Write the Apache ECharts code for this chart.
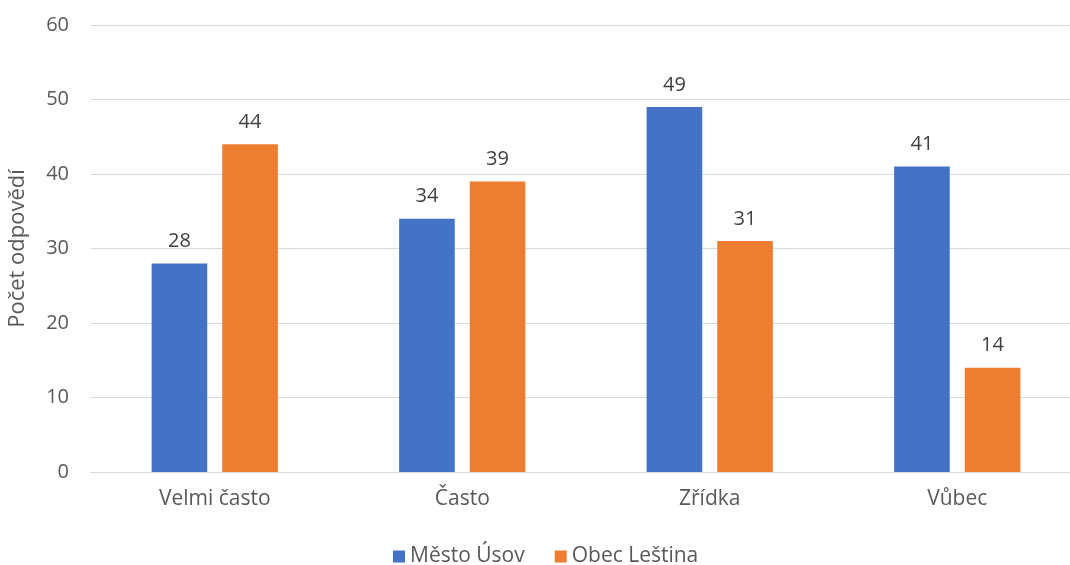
<!DOCTYPE html>
<html><head><meta charset="utf-8">
<script src="https://cdn.jsdelivr.net/npm/echarts@6/dist/echarts.min.js"></script>
<style>html,body{margin:0;padding:0;background:#fff}#c{width:1070px;height:565px}</style>
</head><body><div id="c"></div>
<script>
const categories = ['Velmi často', 'Často', 'Zřídka', 'Vůbec'];
const mestoUsov = [28, 34, 49, 41];
const obecLestina = [44, 39, 31, 14];
const seriesNames = ['Město Úsov', 'Obec Leština'];
const yTitle = 'Počet odpovědí';

const font = 'Open Sans';
const txt = '#595959';
const chart = echarts.init(document.getElementById('c'));
const lbl = {show: true, position: 'top', distance: 12, color: '#404040', fontSize: 20, fontFamily: font};
chart.setOption({
  animation: false,
  textStyle: {fontFamily: font},
  grid: {left: 91, right: -11, top: 25, bottom: 93, containLabel: false, outerBoundsMode: 'none'},
  legend: {
    top: 541, left: 388, itemWidth: 12, itemHeight: 12, itemGap: 30,
    icon: 'rect',
    textStyle: {color: txt, fontSize: 21, fontFamily: font},
    data: seriesNames
  },
  xAxis: {
    type: 'category', data: categories,
    axisLine: {lineStyle: {color: '#D9D9D9', width: 1}},
    axisTick: {show: false},
    axisLabel: {color: txt, fontSize: 21, margin: 17, fontFamily: font}
  },
  yAxis: {
    type: 'value', min: 0, max: 60, interval: 10,
    name: yTitle, nameLocation: 'middle', nameGap: 62,
    nameTextStyle: {color: txt, fontSize: 22, fontFamily: font},
    axisLine: {show: false}, axisTick: {show: false},
    axisLabel: {color: txt, fontSize: 20, margin: 22, fontFamily: font},
    splitLine: {lineStyle: {color: '#D9D9D9', width: 1}}
  },
  series: [
    {name: seriesNames[0], type: 'bar', data: mestoUsov, barGap: '27%', barCategoryGap: '49%',
     itemStyle: {color: '#4472C4'}, label: lbl},
    {name: seriesNames[1], type: 'bar', data: obecLestina,
     itemStyle: {color: '#ED7D31'}, label: lbl}
  ]
});
</script></body></html>
